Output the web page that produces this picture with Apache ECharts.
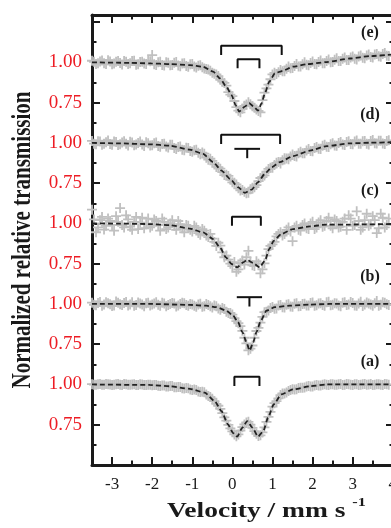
<!DOCTYPE html>
<html>
<head>
<meta charset="utf-8">
<title>Mössbauer spectra</title>
<script src="https://cdn.jsdelivr.net/npm/echarts@6/dist/echarts.min.js"></script>
<style>
html, body { margin: 0; padding: 0; background: #fff; }
#chart { width: 391px; height: 528px; }
</style>
</head>
<body>
<div id="chart"></div>
<script>
// panels bottom to top, each one shifted up by its offset
var panels = ['(a)', '(b)', '(c)', '(d)', '(e)'];
var offsets = [0, 0.5, 1.0, 1.5, 2.0];

// tick values (stacked axis units)
var xMajor = [-3, -2, -1, 0, 1, 2, 3, 4];
var xMinor = [-2.5, -1.5, -0.5, 0.5, 1.5, 2.5, 3.5];
var yMajor = [0.75, 1, 1.25, 1.5, 1.75, 2, 2.25, 2.5, 2.75, 3, 3.25];
var yMinor = [0.625, 0.875, 1.125, 1.375, 1.625, 1.875, 2.125, 2.375, 2.625, 2.875, 3.125];
var yLabeled = [0.75, 1, 1.25, 1.5, 1.75, 2, 2.25, 2.5, 2.75, 3];

// measured points (velocity mm/s, relative transmission), two interleaved sweeps
var velocity = [-3.5, -3.4, -3.3, -3.2, -3.1, -3.0, -2.9, -2.8, -2.7, -2.6,
  -2.5, -2.4, -2.3, -2.2, -2.1, -2.0, -1.9, -1.8, -1.7, -1.6,
  -1.5, -1.4, -1.3, -1.2, -1.1, -1.0, -0.9, -0.8, -0.7, -0.6,
  -0.5, -0.4, -0.3, -0.2, -0.1, 0.0, 0.1, 0.2, 0.3, 0.4,
  0.5, 0.6, 0.7, 0.8, 0.9, 1.0, 1.1, 1.2, 1.3, 1.4,
  1.5, 1.6, 1.7, 1.8, 1.9, 2.0, 2.1, 2.2, 2.3, 2.4,
  2.5, 2.6, 2.7, 2.8, 2.9, 3.0, 3.1, 3.2, 3.3, 3.4,
  3.5, 3.6, 3.7, 3.8, 3.9];
var velocity2 = [-3.45, -3.35, -3.25, -3.15, -3.05, -2.95, -2.85, -2.75, -2.65, -2.55,
  -2.45, -2.35, -2.25, -2.15, -2.05, -1.95, -1.85, -1.75, -1.65, -1.55,
  -1.45, -1.35, -1.25, -1.15, -1.05, -0.95, -0.85, -0.75, -0.65, -0.55,
  -0.45, -0.35, -0.25, -0.15, -0.05, 0.05, 0.15, 0.25, 0.35, 0.45,
  0.55, 0.65, 0.75, 0.85, 0.95, 1.05, 1.15, 1.25, 1.35, 1.45,
  1.55, 1.65, 1.75, 1.85, 1.95, 2.05, 2.15, 2.25, 2.35, 2.45,
  2.55, 2.65, 2.75, 2.85, 2.95, 3.05, 3.15, 3.25, 3.35, 3.45,
  3.55, 3.65, 3.75, 3.85];

var obsA = [1.002, 0.998, 1.003, 0.999, 1.001, 0.997, 1.002, 0.999, 1.003, 0.998,
  1.000, 0.996, 1.001, 0.997, 0.999, 0.995, 0.997, 0.991, 0.994, 0.988,
  0.990, 0.982, 0.984, 0.975, 0.976, 0.966, 0.965, 0.953, 0.951, 0.928,
  0.912, 0.879, 0.848, 0.796, 0.749, 0.709, 0.678, 0.713, 0.752, 0.768,
  0.730, 0.694, 0.684, 0.733, 0.799, 0.862, 0.897, 0.934, 0.944, 0.959,
  0.970, 0.971, 0.980, 0.981, 0.990, 0.988, 0.996, 0.994, 1.001, 0.997,
  1.002, 0.998, 1.003, 0.999, 1.001, 0.997, 1.002, 0.998, 1.003, 1.000,
  0.997, 1.002, 0.999, 1.003, 0.998];
var obsA2 = [0.999, 1.002, 0.998, 1.003, 1.000, 0.998, 1.003, 0.997, 1.001, 0.999,
  1.002, 0.997, 1.000, 0.996, 0.999, 0.997, 0.992, 0.994, 0.988, 0.991,
  0.983, 0.985, 0.977, 0.978, 0.969, 0.968, 0.956, 0.955, 0.937, 0.922,
  0.896, 0.868, 0.822, 0.776, 0.727, 0.690, 0.690, 0.735, 0.764, 0.750,
  0.710, 0.680, 0.702, 0.768, 0.830, 0.884, 0.914, 0.944, 0.950, 0.966,
  0.969, 0.978, 0.979, 0.987, 0.988, 0.994, 0.993, 0.999, 0.998, 1.002,
  0.998, 1.001, 0.997, 1.003, 0.999, 1.002, 0.997, 1.001, 0.998, 1.003,
  0.999, 1.002, 0.997, 1.001];

var obsB = [1.008, 0.992, 1.012, 0.996, 1.004, 0.987, 1.015, 0.998, 1.006, 0.990,
  1.010, 0.994, 1.003, 0.985, 1.007, 0.996, 1.011, 0.989, 1.002, 0.993,
  1.006, 0.984, 0.999, 1.004, 0.988, 0.997, 0.983, 1.001, 0.986, 0.994,
  0.978, 0.985, 0.964, 0.969, 0.943, 0.934, 0.893, 0.862, 0.790, 0.712,
  0.742, 0.832, 0.884, 0.949, 0.959, 0.981, 0.972, 0.993, 0.978, 0.998,
  0.983, 1.004, 0.987, 1.001, 0.990, 1.009, 0.992, 1.005, 0.988, 1.013,
  0.995, 1.002, 0.986, 1.010, 0.997, 1.006, 0.989, 1.014, 0.996, 1.003,
  0.988, 1.018, 0.995, 1.007, 0.993];
var obsB2 = [0.995, 1.006, 0.989, 1.010, 0.998, 0.991, 1.007, 0.994, 1.012, 0.997,
  0.988, 1.009, 0.996, 1.004, 0.990, 1.002, 0.995, 1.008, 0.986, 0.999,
  1.003, 0.990, 1.007, 0.993, 1.000, 0.988, 0.996, 0.982, 1.000, 0.985,
  0.990, 0.972, 0.975, 0.952, 0.944, 0.912, 0.880, 0.833, 0.755, 0.722,
  0.790, 0.851, 0.920, 0.952, 0.975, 0.970, 0.990, 0.979, 0.995, 0.984,
  1.001, 0.985, 0.999, 0.991, 1.006, 0.989, 1.003, 0.994, 1.011, 0.992,
  1.004, 0.990, 1.008, 0.994, 1.012, 0.991, 1.002, 0.987, 1.009, 0.996,
  1.005, 0.989, 1.011, 0.998];

var obsC = [1.085, 0.945, 1.020, 0.962, 1.030, 0.990, 1.045, 1.095, 0.975, 1.025,
  0.960, 1.040, 1.005, 0.970, 1.030, 0.985, 1.015, 0.955, 1.010, 0.975,
  1.020, 0.960, 0.995, 0.945, 0.985, 0.950, 0.975, 0.930, 0.955, 0.915,
  0.905, 0.860, 0.862, 0.790, 0.775, 0.735, 0.700, 0.752, 0.745, 0.830,
  0.740, 0.765, 0.690, 0.752, 0.840, 0.870, 0.920, 0.945, 0.935, 0.975,
  0.890, 0.985, 0.955, 1.000, 0.965, 1.010, 0.975, 1.020, 0.985, 1.035,
  0.970, 1.015, 0.980, 1.030, 1.050, 0.985, 1.075, 0.960, 1.020, 0.985,
  1.045, 0.940, 1.060, 0.975, 1.030];
var obsC2 = [1.025, 0.975, 1.040, 0.985, 1.015, 0.955, 1.010, 0.990, 1.050, 0.980,
  1.010, 0.965, 1.035, 0.995, 0.975, 1.025, 0.990, 1.030, 0.965, 1.000,
  0.985, 1.015, 0.970, 0.990, 0.960, 0.985, 0.940, 0.965, 0.925, 0.935,
  0.885, 0.880, 0.820, 0.800, 0.750, 0.760, 0.715, 0.770, 0.790, 0.760,
  0.735, 0.750, 0.715, 0.800, 0.860, 0.885, 0.935, 0.925, 0.960, 0.950,
  0.975, 0.960, 0.990, 0.970, 1.000, 0.965, 1.005, 0.980, 1.015, 0.985,
  1.025, 0.975, 1.010, 0.960, 1.030, 0.990, 1.015, 0.975, 1.060, 0.995,
  1.020, 0.970, 1.035, 0.990];

var obsD = [1.012, 0.991, 1.008, 0.995, 1.015, 0.988, 1.005, 0.992, 1.010, 0.984,
  1.003, 0.990, 1.008, 0.981, 0.998, 0.985, 1.002, 0.976, 0.994, 0.972,
  0.989, 0.962, 0.978, 0.955, 0.968, 0.945, 0.957, 0.930, 0.933, 0.896,
  0.888, 0.851, 0.840, 0.800, 0.795, 0.755, 0.742, 0.705, 0.697, 0.690,
  0.722, 0.738, 0.782, 0.798, 0.838, 0.846, 0.876, 0.872, 0.905, 0.899,
  0.928, 0.916, 0.945, 0.936, 0.962, 0.948, 0.975, 0.962, 0.989, 0.975,
  0.998, 0.982, 1.005, 0.987, 1.010, 0.992, 1.015, 0.994, 1.012, 0.990,
  1.018, 0.996, 1.013, 0.993, 1.016];
var obsD2 = [0.995, 1.010, 0.989, 1.004, 0.993, 1.009, 0.987, 1.002, 0.994, 1.007,
  0.986, 1.000, 0.990, 1.004, 0.983, 0.997, 0.980, 0.993, 0.978, 0.988,
  0.968, 0.975, 0.958, 0.970, 0.950, 0.955, 0.938, 0.940, 0.908, 0.902,
  0.866, 0.850, 0.818, 0.802, 0.771, 0.752, 0.718, 0.708, 0.688, 0.712,
  0.725, 0.762, 0.788, 0.822, 0.845, 0.862, 0.882, 0.892, 0.903, 0.916,
  0.918, 0.935, 0.935, 0.952, 0.950, 0.968, 0.963, 0.982, 0.976, 0.992,
  0.984, 1.000, 0.990, 1.006, 0.993, 1.009, 0.995, 1.010, 0.994, 1.012,
  0.997, 1.014, 0.996, 1.011];

var obsE = [1.010, 0.990, 1.006, 0.994, 1.013, 0.988, 1.004, 0.996, 1.009, 0.990,
  1.008, 0.985, 1.002, 0.993, 1.011, 1.045, 0.984, 1.003, 0.980, 0.998,
  0.983, 1.002, 0.976, 0.995, 0.972, 0.990, 0.968, 0.982, 0.962, 0.955,
  0.935, 0.925, 0.892, 0.872, 0.815, 0.790, 0.722, 0.690, 0.730, 0.752,
  0.728, 0.708, 0.690, 0.812, 0.862, 0.925, 0.928, 0.952, 0.945, 0.975,
  0.965, 0.990, 0.974, 1.000, 0.982, 1.005, 0.988, 1.012, 0.995, 1.018,
  1.002, 1.025, 1.008, 1.030, 1.014, 1.037, 1.018, 1.042, 1.025, 1.048,
  1.030, 1.052, 1.035, 1.058, 1.040];
var obsE2 = [1.003, 0.994, 1.011, 0.989, 1.006, 0.993, 1.008, 0.987, 1.004, 0.995,
  1.010, 0.988, 1.003, 0.990, 1.007, 0.988, 1.001, 0.984, 1.000, 0.982,
  0.997, 0.980, 0.993, 0.978, 0.988, 0.975, 0.979, 0.970, 0.958, 0.948,
  0.930, 0.915, 0.880, 0.855, 0.800, 0.760, 0.700, 0.712, 0.738, 0.740,
  0.718, 0.698, 0.765, 0.838, 0.895, 0.935, 0.938, 0.945, 0.960, 0.964,
  0.978, 0.975, 0.988, 0.985, 0.996, 0.990, 1.002, 0.995, 1.009, 1.000,
  1.016, 1.008, 1.022, 1.015, 1.030, 1.022, 1.037, 1.028, 1.043, 1.034,
  1.048, 1.038, 1.052, 1.041];

// fitted curves
var fitVelA = [-3.5, -2.06, -1.56, -1.06, -0.69, -0.44, -0.27, -0.11, 0.02, 0.12, 0.25, 0.37, 0.50, 0.64, 0.77, 0.89, 1.03, 1.22, 1.51, 1.93, 2.35, 3.97];
var fitA = [1.000, 0.997, 0.989, 0.973, 0.949, 0.896, 0.834, 0.752, 0.698, 0.676, 0.732, 0.773, 0.732, 0.676, 0.710, 0.794, 0.876, 0.938, 0.969, 0.989, 1.000, 1.000];

var fitVelB = [-3.5, -2.06, -1.06, -0.65, -0.40, -0.15, 0.02, 0.14, 0.25, 0.35, 0.43, 0.52, 0.60, 0.71, 0.85, 1.06, 1.43, 1.93, 2.43, 3.97];
var fitB = [1.000, 1.000, 0.994, 0.989, 0.980, 0.958, 0.927, 0.887, 0.825, 0.763, 0.710, 0.763, 0.825, 0.896, 0.958, 0.980, 0.989, 0.996, 1.000, 1.000];

var fitVelC = [-3.5, -2.81, -2.06, -1.56, -1.06, -0.73, -0.48, -0.31, -0.16, -0.02, 0.12, 0.27, 0.37, 0.52, 0.68, 0.81, 0.92, 1.03, 1.22, 1.51, 1.93, 2.35, 2.93, 3.97];
var fitC = [1.000, 0.999, 0.996, 0.989, 0.968, 0.944, 0.903, 0.851, 0.789, 0.748, 0.727, 0.758, 0.774, 0.754, 0.727, 0.768, 0.841, 0.892, 0.934, 0.965, 0.981, 0.993, 0.993, 0.996];

var fitVelD = [-3.5, -2.81, -2.06, -1.56, -1.06, -0.73, -0.48, -0.27, -0.06, 0.14, 0.31, 0.48, 0.64, 0.81, 0.98, 1.18, 1.51, 1.93, 2.35, 2.93, 3.43, 3.97];
var fitD = [1.000, 0.997, 0.991, 0.983, 0.958, 0.932, 0.880, 0.828, 0.777, 0.725, 0.690, 0.710, 0.756, 0.808, 0.849, 0.880, 0.918, 0.952, 0.980, 0.997, 1.001, 1.004];

var fitVelE = [-3.5, -2.56, -2.06, -1.56, -1.06, -0.73, -0.48, -0.31, -0.15, -0.02, 0.08, 0.17, 0.31, 0.42, 0.53, 0.64, 0.73, 0.81, 0.92, 1.06, 1.26, 1.51, 1.85, 2.35, 2.93, 3.43, 3.97];
var fitE = [1.000, 0.997, 0.994, 0.989, 0.983, 0.973, 0.942, 0.901, 0.849, 0.797, 0.735, 0.694, 0.725, 0.746, 0.725, 0.700, 0.746, 0.808, 0.880, 0.932, 0.948, 0.973, 0.988, 1.002, 1.024, 1.039, 1.048];

// stick diagrams: panel, left velocity, right velocity, bar level, end of legs
var doubletSticks = [
  [4, -0.28, 1.23, 1.103, 1.045],
  [4, 0.13, 0.675, 1.019, 0.963],
  [3, -0.28, 1.19, 1.051, 0.993],
  [2, -0.01, 0.71, 1.041, 0.985],
  [0, 0.05, 0.675, 1.048, 0.990]
];
// singlet marks: panel, bar start, bar end, bar level, end of stem
var singletSticks = [
  [3, 0.05, 0.69, 0.963, 0.905],
  [1, 0.11, 0.74, 1.042, 0.984]
];

var measured = [[obsA, obsA2], [obsB, obsB2], [obsC, obsC2], [obsD, obsD2], [obsE, obsE2]];
var fits = [[fitVelA, fitA], [fitVelB, fitB], [fitVelC, fitC], [fitVelD, fitD], [fitVelE, fitE]];

var chart = echarts.init(document.getElementById('chart'));

var crossPath = 'path://M0,-1L0,1M-1,0L1,0';
var ink = '#1a1a1a';
var serif = '"Liberation Serif", "Times New Roman", serif';

var series = [];
for (var i = 0; i < panels.length; i++) {
  (function (i) {
    var o = offsets[i];
    var pts = velocity.map(function (v, k) { return [v, measured[i][0][k] + o]; })
      .concat(velocity2.map(function (v, k) { return [v, measured[i][1][k] + o]; }));
    series.push({
      name: panels[i] + ' data',
      type: 'scatter',
      data: pts,
      symbol: crossPath,
      symbolSize: 10,
      itemStyle: { color: 'rgba(0,0,0,0)', borderColor: '#c0c0c0', borderWidth: 1.8, opacity: 1 },
      silent: true,
      z: 1
    });
    series.push({
      name: panels[i] + ' fit',
      type: 'line',
      data: fits[i][0].map(function (v, k) { return [v, fits[i][1][k] + o]; }),
      smooth: 0.2,
      smoothMonotone: 'x',
      symbol: 'none',
      lineStyle: { color: '#222', width: 1.8, type: [5, 3] },
      silent: true,
      z: 3
    });
  })(i);
}

doubletSticks.forEach(function (s) {
  var o = offsets[s[0]];
  series.push({
    type: 'line', symbol: 'none', silent: true, z: 4,
    lineStyle: { color: '#111', width: 2 },
    data: [[s[1], s[4] + o], [s[1], s[3] + o], [s[2], s[3] + o], [s[2], s[4] + o]]
  });
});

singletSticks.forEach(function (s) {
  var o = offsets[s[0]];
  var c = (s[1] + s[2]) / 2;
  series.push({
    type: 'line', symbol: 'none', silent: true, z: 4,
    lineStyle: { color: '#111', width: 2 },
    data: [[s[1], s[3] + o], [s[2], s[3] + o]]
  });
  series.push({
    type: 'line', symbol: 'none', silent: true, z: 4,
    lineStyle: { color: '#111', width: 2 },
    data: [[c, s[3] + o], [c, s[4] + o]]
  });
});

// label of a stacked value: the transmission inside its own panel
function transmissionLabel(v) {
  var k = Math.floor((v - 0.75) / 0.5 + 1e-6);
  return (v - k * 0.5).toFixed(2);
}

function xAxisOf(position, values, length, withLine, withLabel) {
  return {
    type: 'value', gridIndex: 0, position: position,
    min: -3.5, max: 4.03, interval: 0.5,
    axisLine: { show: withLine, onZero: false, lineStyle: { color: ink, width: 3 } },
    axisTick: { show: true, inside: true, length: length, customValues: values, lineStyle: { color: ink, width: 2 } },
    axisLabel: withLabel ? { show: true, customValues: xMajor, margin: 11, color: ink, fontSize: 17, fontFamily: serif } : { show: false },
    splitLine: { show: false }
  };
}

function yAxisOf(position, values, length, withLine, withLabel) {
  return {
    type: 'value', gridIndex: 0, position: position,
    min: 0.5, max: 3.294, interval: 0.25,
    axisLine: { show: withLine, onZero: false, lineStyle: { color: ink, width: 3 } },
    axisTick: { show: true, inside: true, length: length, customValues: values, lineStyle: { color: ink, width: 2 } },
    axisLabel: withLabel ? {
      show: true, customValues: yLabeled, margin: 10, color: '#ed1c24', fontSize: 19, fontFamily: serif,
      formatter: transmissionLabel
    } : { show: false },
    splitLine: { show: false }
  };
}

var textStyle = function (text, font, align) {
  return { text: text, font: font, fill: ink, align: align, textAlign: align, verticalAlign: 'middle', textVerticalAlign: 'middle' };
};

var xTitle = textStyle('{t|Velocity / mm s }{s|-1}', 'bold 22px ' + serif, 'left');
xTitle.rich = {
  t: { font: 'bold 22px ' + serif, lineHeight: 30, verticalAlign: 'middle' },
  s: { font: 'bold 13px ' + serif, lineHeight: 14, verticalAlign: 'top' }
};

var panelY = [361.7, 276.7, 190.7, 115, 33];
var graphics = [
  { type: 'text', x: 167, y: 511, scaleX: 1.25, style: xTitle },
  { type: 'text', x: 22.6, y: 240, rotation: Math.PI / 2, scaleY: 1.28,
    style: textStyle('Normalized relative transmission', 'bold 21px ' + serif, 'center') }
];
panels.forEach(function (p, i) {
  graphics.push({ type: 'text', x: 370, y: panelY[i], style: textStyle(p, 'bold 16px ' + serif, 'center') });
});

chart.setOption({
  backgroundColor: '#fff',
  animation: false,
  grid: { left: 92, right: -3, top: 15, bottom: 63, containLabel: false, outerBoundsMode: 'none' },
  xAxis: [
    xAxisOf('bottom', xMajor, 8, true, true),
    xAxisOf('bottom', xMinor, 4.5, false, false),
    xAxisOf('top', xMajor, 8, true, false),
    xAxisOf('top', xMinor, 4.5, false, false)
  ],
  yAxis: [
    yAxisOf('left', yMajor, 8, true, true),
    yAxisOf('left', yMinor, 4.5, false, false),
    yAxisOf('right', yMajor, 8, true, false),
    yAxisOf('right', yMinor, 4.5, false, false)
  ],
  graphic: graphics,
  series: series
});
</script>
</body>
</html>
